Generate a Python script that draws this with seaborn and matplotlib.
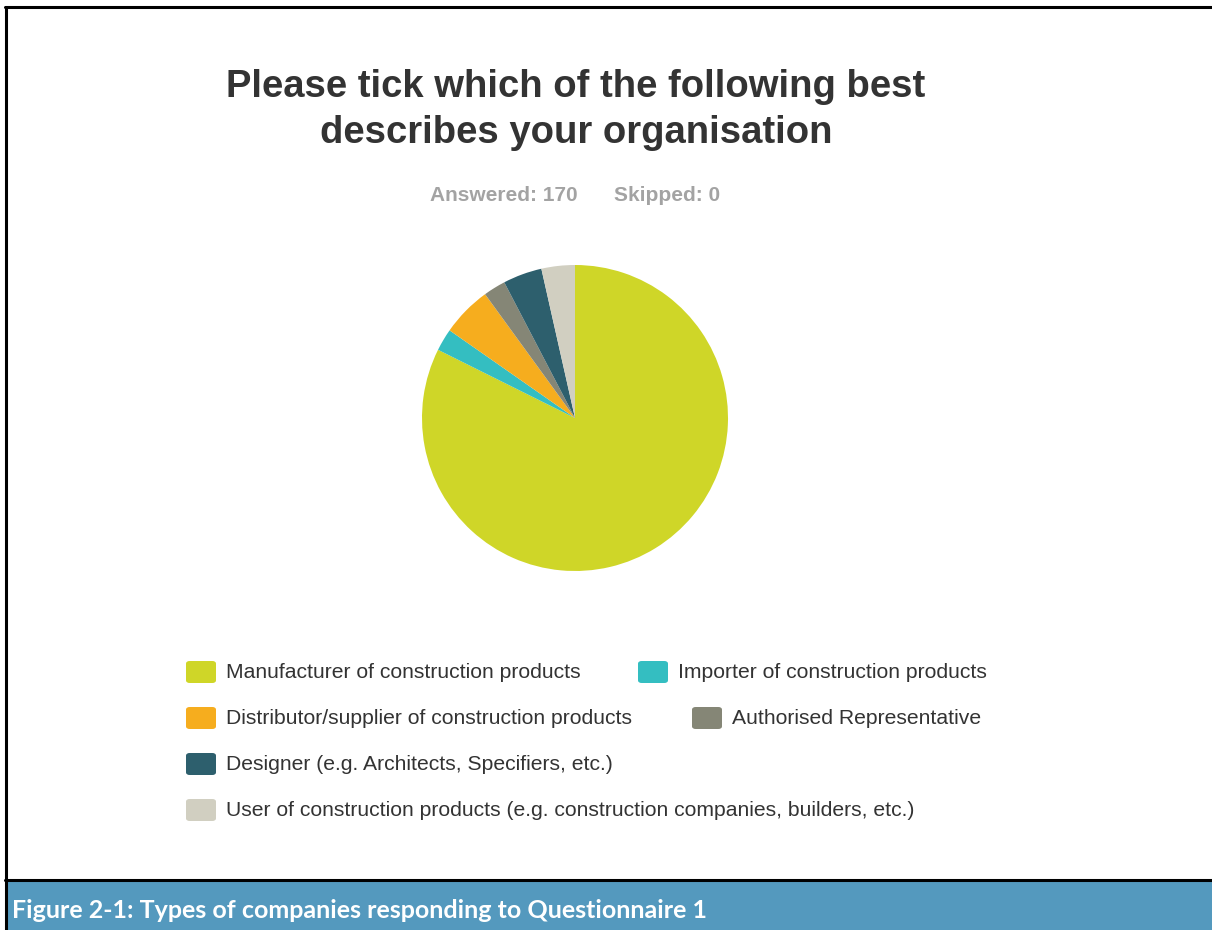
import matplotlib
matplotlib.use("Agg")
import matplotlib.pyplot as plt
import seaborn as sns
from matplotlib.patches import FancyBboxPatch, Rectangle
from matplotlib.lines import Line2D

# Survey responses (answered 170, skipped 0)
categories = [
    "Manufacturer of construction products",
    "Importer of construction products",
    "Distributor/supplier of construction products",
    "Authorised Representative",
    "Designer (e.g. Architects, Specifiers, etc.)",
    "User of construction products (e.g. construction companies, builders, etc.)",
]
counts = [140, 4, 9, 4, 7, 6]
palette = ["#CFD628", "#34BEC1", "#F6AD1E", "#858676", "#2D5F6D", "#D1CFC1"]

title_lines = ["Please tick which of the following best", "describes your organisation"]
answered = 170
skipped = 0
caption = "Figure 2-1: Types of companies responding to Questionnaire 1"

sns.set_theme(style="white")
plt.rcParams["font.family"] = ["Liberation Sans", "DejaVu Sans"]

W, H = 1212, 930
fig = plt.figure(figsize=(W / 100, H / 100), dpi=100)
fig.patch.set_facecolor("white")


def fx(px):
    return px / W


def fy(py):
    return 1 - py / H


# Pie
cx, cy, r = 575, 418, 153
ax = fig.add_axes([fx(cx - r), fy(cy + r), 2 * r / W, 2 * r / H])
ax.pie(counts, colors=palette, startangle=90, counterclock=False, radius=1,
       wedgeprops=dict(linewidth=0))
ax.set_xlim(-1, 1)
ax.set_ylim(-1, 1)
ax.set_aspect("equal")
ax.axis("off")

# Title and response counts
for line, py in zip(title_lines, [87, 133]):
    fig.text(fx(576), fy(py), line, ha="center", va="center", fontsize=27.5,
             fontweight="bold", color="#333333")
fig.text(fx(430), fy(195), f"Answered: {answered}", ha="left", va="center",
         fontsize=15, fontweight="bold", color="#A3A3A3")
fig.text(fx(614), fy(195), f"Skipped: {skipped}", ha="left", va="center",
         fontsize=15, fontweight="bold", color="#A3A3A3")

# Legend laid out in flowing rows
legend_pos = [(186, 672), (638, 672), (186, 718), (692, 718), (186, 764), (186, 810)]
for label, color, (px, py) in zip(categories, palette, legend_pos):
    fig.add_artist(FancyBboxPatch((fx(px), fy(py + 11)), 30 / W, 22 / H,
                                  boxstyle="round,pad=0,rounding_size=0.003",
                                  transform=fig.transFigure, facecolor=color,
                                  edgecolor="none"))
    fig.text(fx(px + 40), fy(py), label, ha="left", va="center", fontsize=15.2,
             color="#333333")

# Frame and caption band
fig.add_artist(Line2D([fx(5), 1], [fy(7.5), fy(7.5)], color="black", lw=2.2,
                      transform=fig.transFigure))
fig.add_artist(Line2D([fx(5.5), fx(5.5)], [fy(7), 0], color="black", lw=2.2,
                      transform=fig.transFigure))
fig.add_artist(Line2D([fx(5), 1], [fy(879.5), fy(879.5)], color="black", lw=2.2,
                      transform=fig.transFigure))
fig.add_artist(Rectangle((fx(6.5), 0), 1, fy(881), transform=fig.transFigure,
                         facecolor="#5499BE", edgecolor="none"))
fig.text(fx(12), fy(910), caption, ha="left", va="center", fontsize=18,
         fontweight="bold", color="white", family=["Lato", "DejaVu Sans"])

fig.savefig("out.png", dpi=100, facecolor="white")
